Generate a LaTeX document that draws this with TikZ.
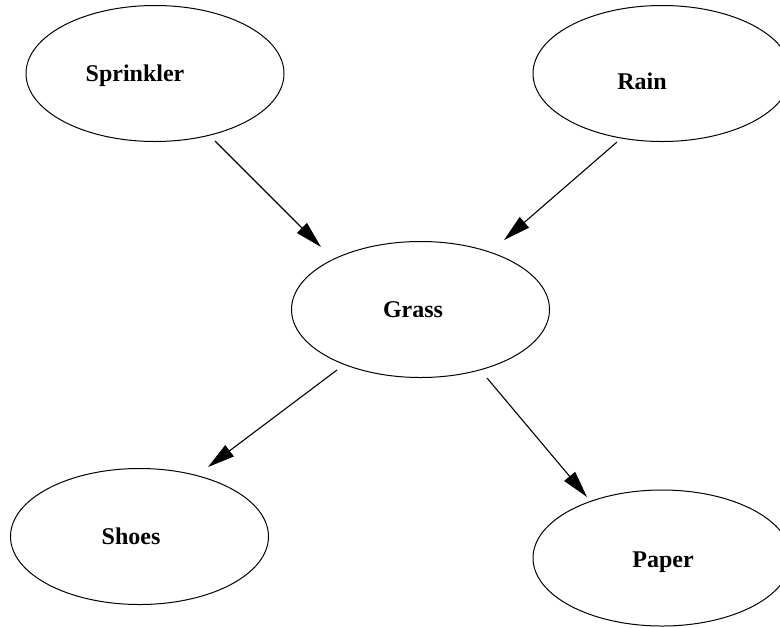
\documentclass[tikz,border=0pt]{standalone}
\usepackage{fontspec}
\setmainfont{Liberation Serif}
\usetikzlibrary{shapes.geometric,arrows.meta}
\begin{document}
\begin{tikzpicture}[x=0.5pt,y=-0.5pt,
  var/.style={draw,ellipse,line width=0.5pt,inner sep=0pt,
    minimum width=129pt,minimum height=68pt},
  varname/.style={anchor=base,font=\bfseries\fontsize{12}{14}\selectfont},
  edge/.style={line width=0.55pt,-{Triangle[length=13.5pt,width=7pt]}}]
\useasboundingbox (0,0) rectangle (780,627);
\begin{scope}
\clip (0,0) rectangle (780,627);
% variables
\node[var] (sprinkler) at (155,73.5) {};
\node[var] (rain) at (662,73.5) {};
\node[var] (grass) at (420.5,309.5) {};
\node[var] (shoes) at (139.5,536.5) {};
\node[var] (paper) at (662,558) {};
\end{scope}
% variable names
\node[varname] (sprinklerT) at (135,81) {Sprinkler};
\node[varname] (rainT) at (642,89) {Rain};
\node[varname] (grassT) at (413,317) {Grass};
\node[varname] (shoesT) at (131,544) {Shoes};
\node[varname] (paperT) at (663,567) {Paper};
% arrow end points
\coordinate (s1) at (215,141);
\coordinate (t1) at (321,247);
\coordinate (s2) at (617,142);
\coordinate (t2) at (504,240);
\coordinate (s3) at (337,370);
\coordinate (t3) at (208,467);
\coordinate (s4) at (487,378);
\coordinate (t4) at (587,497);
% dependencies
\draw[edge] (s1) -- (t1);
\draw[edge] (s2) -- (t2);
\draw[edge] (s3) -- (t3);
\draw[edge] (s4) -- (t4);
\end{tikzpicture}
\end{document}
